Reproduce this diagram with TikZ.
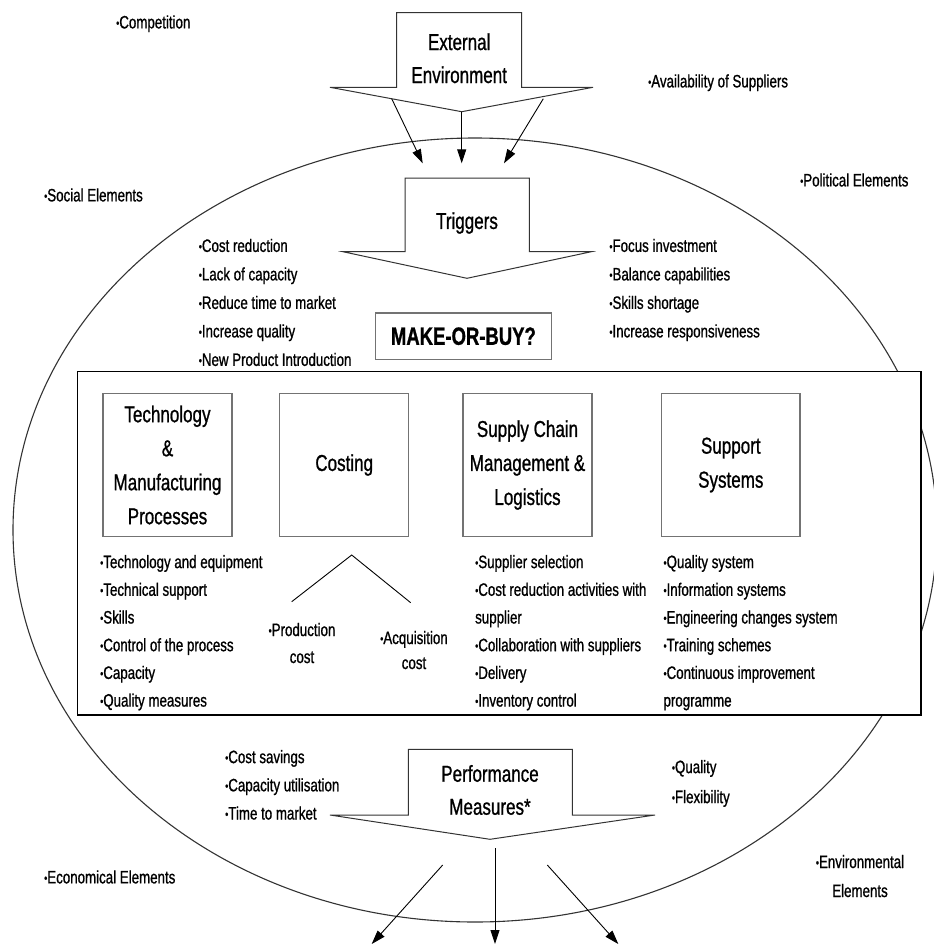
\documentclass[tikz,border=0pt]{standalone}
\usepackage{fontspec}
\setmainfont{Liberation Sans}[FakeStretch=0.74,FakeBold=0.9]
\usetikzlibrary{arrows.meta}
\newcommand\itemdot{\raisebox{1.2pt}{\fontsize{12}{12}\selectfont\char"2022}}

\begin{document}
\begin{tikzpicture}[
    x=1pt,y=-1pt,
    rim/.style={draw=black!80,line width=1.1pt},
    block arrow/.style={draw=black!80,line width=1pt,fill=white,line join=miter},
    arrow text/.style={font=\fontsize{23}{33}\selectfont,align=center,inner sep=0pt},
    area/.style={draw=black!55,line width=1.5pt,fill=white,inner sep=0pt,align=center,
        font=\fontsize{23}{34}\selectfont,minimum width=129pt,minimum height=143pt},
    entry/.style={font=\fontsize{18}{28}\selectfont,anchor=west,inner sep=0pt,
        text height=12.8pt,text depth=0pt},
    flow/.style={line width=.9pt,-{Triangle[length=14pt,width=9pt]}},
    branch/.style={line width=.9pt}
]
    \useasboundingbox (0,0) rectangle (934,945);

    % outer ring and the forces round it
    \draw[rim] (475,530) ellipse [x radius=462pt,y radius=392pt];
    \node[entry] (competition) at (116,22) {\itemdot Competition};
    \node[entry] (suppliers) at (648,81) {\itemdot Availability of Suppliers};
    \node[entry] (social) at (44,195) {\itemdot Social Elements};
    \node[entry] (political) at (800,180) {\itemdot Political Elements};
    \node[entry] (economical) at (44,877) {\itemdot Economical Elements};
    \node[entry,align=center,anchor=center,text height=,font=\fontsize{18}{29}\selectfont]
        (environmental) at (860,876) {\itemdot Environmental\\Elements};

    % external environment arrow
    \draw[block arrow] (396.7,12.7) -- (521.7,12.7) -- (521.7,87.3) -- (593,87.3)
        -- (461.7,111.7) coordinate (ext tip) -- (330,87.3) -- (396.7,87.3) -- cycle;
    \node[arrow text] (extenv) at (459.2,58.3) {External\\Environment};
    \coordinate (ext from l) at (391.7,98.7);
    \coordinate (ext from r) at (543.3,98.7);
    \coordinate (ext to l) at (422.7,163.3);
    \coordinate (ext to m) at (461.7,163.3);
    \coordinate (ext to r) at (504,163.3);
    \draw[flow] (ext from l) -- (ext to l);
    \draw[flow] (ext tip) -- (ext to m);
    \draw[flow] (ext from r) -- (ext to r);

    % triggers arrow
    \draw[block arrow] (405,178) -- (529.3,178) -- (529.3,251.7) -- (591.4,251.7)
        -- (467,278.3) coordinate (trig tip) -- (342.9,251.7) -- (405,251.7) -- cycle;
    \node[arrow text] (triggers) at (467,223) {Triggers};

    \foreach \entrytext [count=\row from 0] in {Cost reduction,Lack of capacity,
        Reduce time to market,Increase quality,New Product Introduction}
        \node[entry] (trig left \row) at (198.6,245.5+28.5*\row) {\itemdot\entrytext};
    \foreach \entrytext [count=\row from 0] in {Focus investment,Balance capabilities,
        Skills shortage,Increase responsiveness}
        \node[entry] (trig right \row) at (609.2,245.5+28.5*\row) {\itemdot\entrytext};

    \node[draw=black!55,line width=1.8pt,fill=white,minimum width=176pt,minimum height=46.7pt,
        inner sep=0pt,font=\fontsize{25}{25}\selectfont\bfseries] (makebuy) at (463.4,336.2)
        {MAKE-OR-BUY?};

    % decision areas
    \draw[line width=1.4pt,fill=white] (77.3,371.7) rectangle (921,715);
    \node[area] (tech) at (167.5,465) {Technology\\\&\\Manufacturing\\Processes};
    \node[area] (costing) at (344.2,465) {Costing};
    \node[area] (supply) at (527.5,465) {Supply Chain\\Management \&\\Logistics};
    \node[area,minimum width=138.3pt] (support) at (730.8,465) {Support\\Systems};

    \coordinate (cost apex) at (351.7,555);
    \coordinate (cost left) at (291.7,601.7);
    \coordinate (cost right) at (410.7,602.7);
    \draw[branch] (cost left) -- (cost apex) -- (cost right);
    \node[entry,align=center,anchor=center,text height=,font=\fontsize{18}{27}\selectfont]
        (production) at (302,643) {\itemdot Production\\cost};
    \node[entry,align=center,anchor=center,text height=,font=\fontsize{18}{25}\selectfont]
        (acquisition) at (414,650) {\itemdot Acquisition\\cost};

    \foreach \entrytext [count=\row from 0] in {\itemdot Technology and equipment,
        \itemdot Technical support,\itemdot Skills,\itemdot Control of the process,
        \itemdot Capacity,\itemdot Quality measures}
        \node[entry] (tech \row) at (100,561.7+27.7*\row) {\entrytext};
    \foreach \entrytext [count=\row from 0] in {\itemdot Supplier selection,
        \itemdot Cost reduction activities with,supplier,\itemdot Collaboration with suppliers,
        \itemdot Delivery,\itemdot Inventory control}
        \node[entry] (supply \row) at (475,561.7+27.7*\row) {\entrytext};
    \foreach \entrytext [count=\row from 0] in {\itemdot Quality system,
        \itemdot Information systems,\itemdot Engineering changes system,
        \itemdot Training schemes,\itemdot Continuous improvement,programme}
        \node[entry] (support \row) at (663.3,561.7+27.7*\row) {\entrytext};

    % performance measures arrow
    \draw[block arrow] (408.3,749.3) -- (572.3,749.3) -- (572.3,815) -- (655,815)
        -- (490,839.3) coordinate (perf tip) -- (330,815) -- (408.3,815) -- cycle;
    \node[arrow text] (performance) at (490,790) {Performance\\Measures*};

    \foreach \entrytext [count=\row from 0] in {Cost savings,Capacity utilisation,Time to market}
        \node[entry] (perf left \row) at (225,756.7+28.2*\row) {\itemdot\entrytext};
    \foreach \entrytext [count=\row from 0] in {Quality,Flexibility}
        \node[entry] (perf right \row) at (671.7,766.7+30*\row) {\itemdot\entrytext};

    \coordinate (out from l) at (442.7,865);
    \coordinate (out from m) at (495,848);
    \coordinate (out from r) at (547.3,865);
    \coordinate (out to l) at (371.7,944);
    \coordinate (out to m) at (495,944);
    \coordinate (out to r) at (618.3,944);
    \draw[flow] (out from l) -- (out to l);
    \draw[flow] (out from m) -- (out to m);
    \draw[flow] (out from r) -- (out to r);
\end{tikzpicture}
\end{document}
